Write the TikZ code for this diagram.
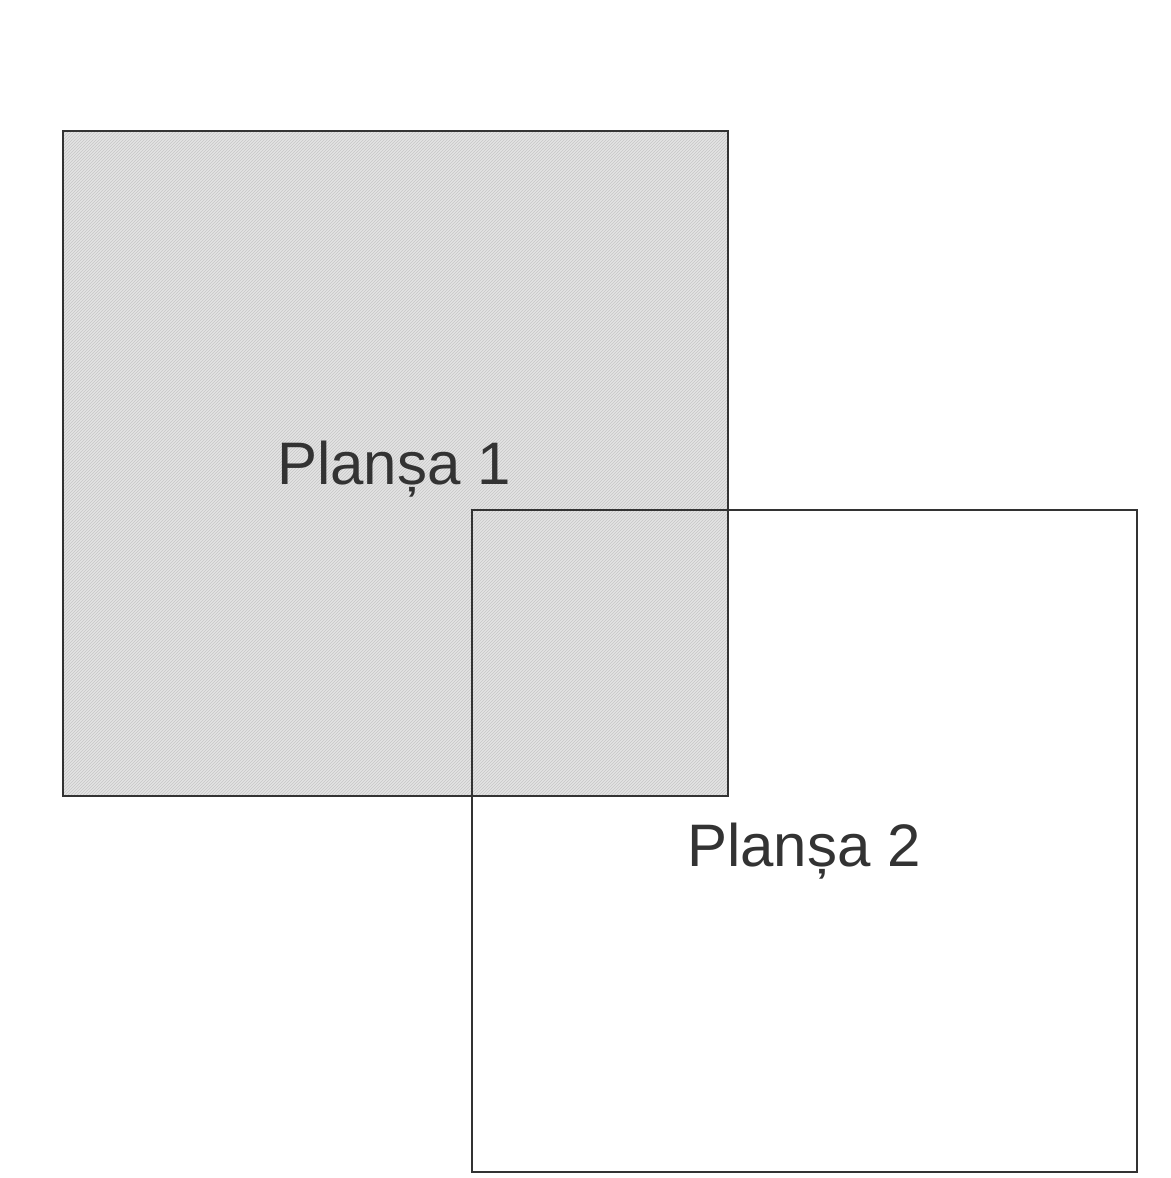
\documentclass[tikz,border=0pt]{standalone}
\usepackage{fontspec}
\setmainfont{Liberation Sans}
\usetikzlibrary{patterns}
\definecolor{edge}{HTML}{333333}
\definecolor{hatch}{HTML}{E4E4E4}
\definecolor{hatchline}{HTML}{C6C6C6}
\tikzset{
  sheet/.style={draw=edge, line width=1.3pt},
  label/.style={text=edge, font=\fontsize{60}{63}\selectfont, anchor=base, inner sep=0pt}
}
\begin{document}
\begin{tikzpicture}[x=1pt,y=-1pt]
\useasboundingbox (0,0) rectangle (1170,1178);
\fill[white] (0,0) rectangle (1170,1178);
\fill[hatch] (63,131) rectangle (728,796);
\fill[pattern=north east lines, pattern color=hatchline] (63,131) rectangle (728,796);
\draw[sheet] (63,131) rectangle (728,796);
\draw[sheet] (472,510) rectangle (1137,1172);
\node[label] (p1) at (394,484) {Planșa 1};
\node[label] (p2) at (804,866) {Planșa 2};
\end{tikzpicture}
\end{document}
